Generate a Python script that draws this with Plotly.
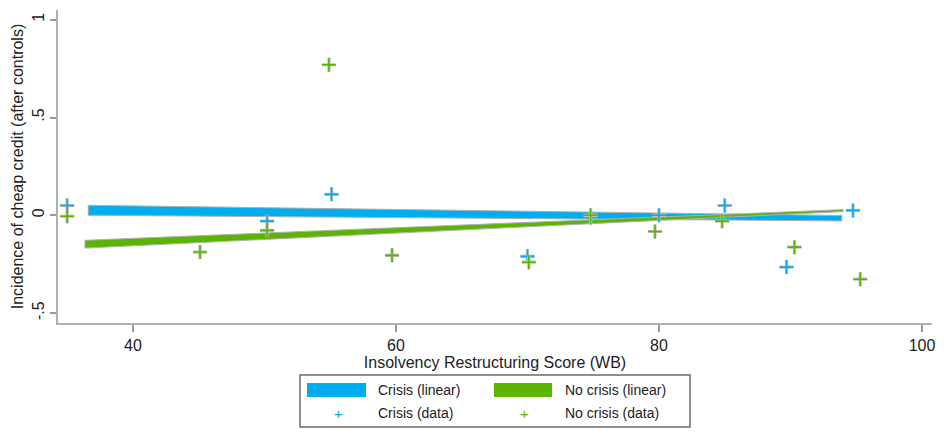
import plotly.graph_objects as go

# ---- data ----
crisis_x = [35.0, 50.2, 55.1, 70.0, 74.8, 80.0, 85.0, 89.7, 94.75]
crisis_y = [0.05, -0.03, 0.107, -0.21, -0.012, 0.0, 0.05, -0.265, 0.025]

nocrisis_x = [35.0, 45.1, 50.2, 54.9, 59.7, 70.1, 74.8, 79.7, 84.8, 90.3, 95.3]
nocrisis_y = [-0.005, -0.188, -0.077, 0.77, -0.205, -0.24, 0.0, -0.083, -0.03, -0.163, -0.327]

# fitted bands (start / end of the fitted range)
crisis_fit_x = [36.6, 93.9]
crisis_fit_hi = [0.051, -0.001]
crisis_fit_lo = [0.000, -0.029]

nocrisis_fit_x = [36.35, 94.0]
nocrisis_fit_hi = [-0.128, 0.029]
nocrisis_fit_lo = [-0.168, 0.019]

x_ticks = [40, 60, 80, 100]
y_ticks = [-0.5, 0, 0.5, 1]
y_tick_labels = ["-.5", "0", ".5", "1"]

legend_names = ["Crisis (linear)", "No crisis (linear)", "Crisis (data)", "No crisis (data)"]

BLUE = "#00aeef"
GREEN = "#5ab400"
OUTLINE = "#b0b0b0"
TEXT = "#222222"
FONT = "Liberation Sans, Arial, sans-serif"


def band(xs, hi, lo):
    bx = [xs[0], xs[1], xs[1], xs[0], xs[0]]
    by = [hi[0], hi[1], lo[1], lo[0], hi[0]]
    return bx, by


fig = go.Figure()

bx, by = band(crisis_fit_x, crisis_fit_hi, crisis_fit_lo)
fig.add_trace(go.Scatter(x=bx, y=by, mode="lines", fill="toself", fillcolor=BLUE,
                         line=dict(color=OUTLINE, width=1), name=legend_names[0],
                         hoverinfo="skip"))
bx, by = band(nocrisis_fit_x, nocrisis_fit_hi, nocrisis_fit_lo)
fig.add_trace(go.Scatter(x=bx, y=by, mode="lines", fill="toself", fillcolor=GREEN,
                         line=dict(color=OUTLINE, width=1), name=legend_names[1],
                         hoverinfo="skip"))

for xs, ys, col, nm in [(crisis_x, crisis_y, BLUE, legend_names[2]),
                        (nocrisis_x, nocrisis_y, GREEN, legend_names[3])]:
    # grey halo under the coloured plus
    fig.add_trace(go.Scatter(x=xs, y=ys, mode="markers", hoverinfo="skip",
                             marker=dict(symbol="cross-thin", size=10,
                                         line=dict(color="#c0c0c0", width=3.2))))
    fig.add_trace(go.Scatter(x=xs, y=ys, mode="markers", name=nm,
                             marker=dict(symbol="cross-thin", size=10,
                                         line=dict(color=col, width=1.6))))

W, H = 944, 443
ml, mr, mt, mb = 58, 12, 10, 120
pw, ph = W - ml - mr, H - mt - mb


def px(x):
    return (x - ml) / pw


def py(y):
    return (H - mb - y) / ph


# ---- legend (drawn in paper coordinates) ----
fig.add_shape(type="rect", xref="paper", yref="paper", x0=px(300), x1=px(690),
              y0=py(427), y1=py(375), line=dict(color="#6a6a6a", width=1.5))
fig.add_shape(type="rect", xref="paper", yref="paper", x0=px(307), x1=px(366),
              y0=py(397), y1=py(383), line=dict(width=0), fillcolor=BLUE)
fig.add_shape(type="rect", xref="paper", yref="paper", x0=px(494), x1=px(552),
              y0=py(397), y1=py(383), line=dict(width=0), fillcolor=GREEN)

leg_text = [(376, 390, legend_names[0]), (563, 390, legend_names[1]),
            (376, 413, legend_names[2]), (563, 413, legend_names[3])]
for lx, ly, t in leg_text:
    fig.add_annotation(xref="paper", yref="paper", x=px(lx), y=py(ly), text=t,
                       showarrow=False, xanchor="left", yanchor="middle",
                       font=dict(family=FONT, size=14, color=TEXT))
for lx, col in [(338, BLUE), (524, GREEN)]:
    fig.add_annotation(xref="paper", yref="paper", x=px(lx), y=py(413), text="+",
                       showarrow=False, xanchor="center", yanchor="middle",
                       font=dict(family=FONT, size=15, color=col))

fig.update_layout(
    width=W, height=H,
    margin=dict(l=ml, r=mr, t=mt, b=mb),
    plot_bgcolor="white", paper_bgcolor="white",
    font=dict(family=FONT, size=16, color=TEXT),
    showlegend=False,
    xaxis=dict(range=[34.3, 100.76], tickvals=x_ticks, ticks="outside", ticklen=7,
               tickcolor="#999999", tickwidth=2, showline=True, linecolor="#b0b0b0",
               linewidth=2, showgrid=False, zeroline=False, automargin=False,
               tickfont=dict(size=16, color=TEXT),
               title=dict(text="Insolvency Restructuring Score (WB)", standoff=0,
                          font=dict(size=16, color=TEXT))),
    yaxis=dict(range=[-0.551, 1.05], tickvals=y_ticks, ticktext=y_tick_labels,
               ticks="outside", ticklen=6, tickcolor="#999999", tickwidth=2,
               showline=True, linecolor="#b0b0b0", linewidth=2, showgrid=False,
               zeroline=False, automargin=False, tickangle=-90,
               tickfont=dict(size=16, color=TEXT),
               title=dict(text="Incidence of cheap credit (after controls)", standoff=2,
                          font=dict(size=16, color=TEXT))),
)

fig.write_html("out.html", config={"displayModeBar": False},
               post_script="document.body.style.margin='0';")
